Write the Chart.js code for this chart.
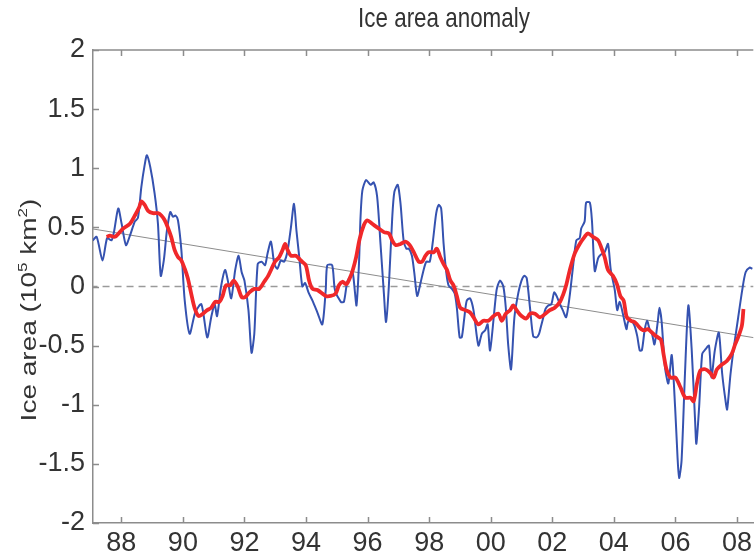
<!DOCTYPE html>
<html>
<head>
<meta charset="utf-8">
<script src="https://cdn.jsdelivr.net/npm/chart.js@4.4.1/dist/chart.umd.min.js"></script>
<style>
  html, body { margin: 0; padding: 0; background: #fff; }
</style>
</head>
<body>
<canvas id="c" width="756" height="551"></canvas>
<script>
// monthly anomaly (blue)
const blueYears = [1987.07, 1987.20, 1987.39, 1987.54, 1987.68, 1987.76, 1987.90, 1988.01, 1988.15, 1988.28,
  1988.44, 1988.54, 1988.65, 1988.76, 1988.83, 1988.94, 1989.08, 1989.19, 1989.28, 1989.38,
  1989.48, 1989.59, 1989.68, 1989.76, 1989.84, 1989.95, 1990.06, 1990.22, 1990.40, 1990.60,
  1990.79, 1990.92, 1991.03, 1991.11, 1991.24, 1991.37, 1991.46, 1991.57, 1991.70, 1991.81,
  1991.91, 1992.00, 1992.13, 1992.23, 1992.32, 1992.43, 1992.56, 1992.67, 1992.75, 1992.86,
  1992.97, 1993.07, 1993.18, 1993.29, 1993.40, 1993.51, 1993.61, 1993.69, 1993.78, 1993.88,
  1993.97, 1994.08, 1994.21, 1994.37, 1994.53, 1994.64, 1994.69, 1994.85, 1994.94, 1995.13,
  1995.23, 1995.34, 1995.45, 1995.52, 1995.59, 1995.64, 1995.72, 1995.77, 1995.83, 1995.95,
  1996.10, 1996.20, 1996.31, 1996.42, 1996.53, 1996.60, 1996.69, 1996.80, 1996.87, 1996.98,
  1997.07, 1997.17, 1997.26, 1997.34, 1997.44, 1997.52, 1997.61, 1997.72, 1997.82, 1997.91,
  1998.02, 1998.12, 1998.23, 1998.31, 1998.39, 1998.47, 1998.56, 1998.63, 1998.74, 1998.83,
  1998.90, 1998.99, 1999.06, 1999.14, 1999.22, 1999.33, 1999.44, 1999.60, 1999.71, 1999.82,
  1999.90, 1999.98, 2000.19, 2000.30, 2000.41, 2000.49, 2000.57, 2000.66, 2000.77, 2000.90,
  2001.00, 2001.09, 2001.17, 2001.28, 2001.38, 2001.49, 2001.57, 2001.63, 2001.71, 2001.78,
  2001.87, 2001.97, 2002.06, 2002.14, 2002.25, 2002.34, 2002.45, 2002.56, 2002.67, 2002.78,
  2002.89, 2002.94, 2003.05, 2003.10, 2003.22, 2003.29, 2003.38, 2003.49, 2003.58, 2003.70,
  2003.81, 2003.90, 2004.03, 2004.11, 2004.19, 2004.31, 2004.41, 2004.46, 2004.57, 2004.67,
  2004.76, 2004.84, 2004.91, 2005.00, 2005.08, 2005.16, 2005.24, 2005.32, 2005.43, 2005.48,
  2005.55, 2005.66, 2005.77, 2005.88, 2005.99, 2006.07, 2006.12, 2006.20, 2006.31, 2006.42,
  2006.53, 2006.64, 2006.68, 2006.77, 2006.87, 2006.98, 2007.09, 2007.17, 2007.28, 2007.41,
  2007.52, 2007.63, 2007.68, 2007.79, 2007.90, 2008.04, 2008.17, 2008.28, 2008.41, 2008.50];
const blueValues = [0.39, 0.42, 0.22, 0.41, 0.39, 0.46, 0.66, 0.53, 0.35, 0.43,
  0.55, 0.58, 0.84, 1.03, 1.11, 1.01, 0.79, 0.53, 0.09, 0.22,
  0.47, 0.63, 0.59, 0.60, 0.56, 0.31, -0.12, -0.40, -0.22, -0.15,
  -0.43, -0.26, -0.15, -0.25, 0.00, 0.14, 0.05, -0.10, 0.14, 0.26,
  0.12, 0.05, -0.20, -0.56, -0.40, 0.19, 0.21, 0.18, 0.28, 0.38,
  0.19, 0.15, 0.22, 0.21, 0.30, 0.50, 0.70, 0.47, 0.25, 0.00,
  0.03, -0.05, -0.12, -0.22, -0.32, -0.03, 0.18, 0.18, -0.03, -0.13,
  -0.13, 0.04, 0.09, 0.11, -0.05, -0.16, 0.19, 0.58, 0.81, 0.90,
  0.86, 0.88, 0.76, 0.36, -0.06, -0.30, 0.00, 0.58, 0.80, 0.86,
  0.70, 0.39, 0.32, 0.32, 0.26, 0.11, -0.08, 0.03, 0.14, 0.21,
  0.21, 0.38, 0.62, 0.69, 0.66, 0.36, 0.11, 0.01, -0.02, -0.06,
  -0.18, -0.43, -0.43, -0.27, -0.12, -0.10, -0.20, -0.50, -0.40, -0.37,
  -0.32, -0.54, -0.03, 0.05, 0.00, -0.18, -0.50, -0.70, -0.26, -0.05,
  0.05, 0.09, 0.07, -0.19, -0.42, -0.43, -0.40, -0.34, -0.26, -0.19,
  -0.16, -0.15, -0.05, -0.08, -0.15, -0.20, -0.26, -0.09, 0.16, 0.39,
  0.41, 0.49, 0.55, 0.71, 0.71, 0.55, 0.13, 0.24, 0.27, 0.29,
  0.36, 0.14, -0.03, -0.20, -0.13, -0.25, -0.36, -0.30, -0.29, -0.33,
  -0.42, -0.54, -0.54, -0.37, -0.29, -0.36, -0.40, -0.49, -0.29, -0.18,
  -0.29, -0.68, -0.82, -0.58, -1.02, -1.45, -1.62, -1.47, -0.74, -0.16,
  -0.54, -1.14, -1.33, -1.02, -0.57, -0.53, -0.50, -0.77, -0.54, -0.39,
  -0.74, -0.97, -1.04, -0.74, -0.51, -0.26, -0.03, 0.12, 0.16, 0.15];

// running mean (red)
const redYears = [1987.52, 1987.63, 1987.79, 1987.95, 1988.06, 1988.28, 1988.44, 1988.58, 1988.65, 1988.76,
  1988.87, 1989.03, 1989.19, 1989.30, 1989.41, 1989.51, 1989.62, 1989.73, 1989.84, 1989.95,
  1990.06, 1990.16, 1990.27, 1990.38, 1990.51, 1990.65, 1990.79, 1990.92, 1991.05, 1991.19,
  1991.29, 1991.40, 1991.54, 1991.65, 1991.78, 1991.91, 1992.02, 1992.16, 1992.32, 1992.48,
  1992.64, 1992.77, 1992.88, 1992.99, 1993.13, 1993.24, 1993.32, 1993.40, 1993.51, 1993.67,
  1993.83, 1993.99, 1994.10, 1994.21, 1994.37, 1994.64, 1994.80, 1994.96, 1995.07, 1995.18,
  1995.31, 1995.42, 1995.52, 1995.63, 1995.74, 1995.88, 1995.99, 1996.15, 1996.31, 1996.53,
  1996.69, 1996.80, 1996.91, 1997.07, 1997.23, 1997.37, 1997.50, 1997.66, 1997.77, 1997.88,
  1997.98, 1998.15, 1998.25, 1998.36, 1998.47, 1998.58, 1998.69, 1998.79, 1998.90, 1999.01,
  1999.17, 1999.33, 1999.44, 1999.60, 1999.76, 1999.92, 2000.09, 2000.25, 2000.36, 2000.49,
  2000.63, 2000.73, 2000.84, 2001.00, 2001.16, 2001.28, 2001.44, 2001.60, 2001.92, 2002.08,
  2002.25, 2002.35, 2002.46, 2002.57, 2002.73, 2002.89, 2003.05, 2003.16, 2003.32, 2003.49,
  2003.59, 2003.70, 2003.81, 2003.97, 2004.10, 2004.21, 2004.32, 2004.42, 2004.56, 2004.67,
  2004.78, 2004.89, 2005.00, 2005.10, 2005.32, 2005.43, 2005.53, 2005.62, 2005.71, 2005.84,
  2006.00, 2006.16, 2006.32, 2006.49, 2006.59, 2006.70, 2006.81, 2006.97, 2007.13, 2007.24,
  2007.35, 2007.51, 2007.67, 2007.83, 2007.94, 2008.05, 2008.16, 2008.21];
const redValues = [0.42, 0.43, 0.42, 0.46, 0.49, 0.53, 0.60, 0.67, 0.72, 0.69,
  0.64, 0.62, 0.62, 0.60, 0.56, 0.50, 0.42, 0.31, 0.25, 0.22,
  0.15, 0.07, -0.06, -0.18, -0.25, -0.23, -0.20, -0.18, -0.13, -0.13,
  -0.08, 0.01, 0.01, 0.05, 0.00, -0.09, -0.09, -0.05, -0.02, -0.02,
  0.04, 0.09, 0.15, 0.21, 0.25, 0.31, 0.36, 0.31, 0.26, 0.26,
  0.22, 0.18, 0.05, -0.02, -0.03, -0.08, -0.08, -0.06, 0.01, 0.04,
  0.02, 0.07, 0.14, 0.25, 0.40, 0.52, 0.56, 0.53, 0.50, 0.46,
  0.45, 0.39, 0.35, 0.36, 0.38, 0.35, 0.29, 0.21, 0.21, 0.26,
  0.29, 0.29, 0.32, 0.25, 0.19, 0.14, 0.05, 0.01, -0.08, -0.18,
  -0.20, -0.22, -0.26, -0.32, -0.29, -0.29, -0.25, -0.23, -0.29, -0.23,
  -0.20, -0.16, -0.20, -0.25, -0.27, -0.23, -0.23, -0.26, -0.20, -0.18,
  -0.13, -0.07, 0.02, 0.14, 0.28, 0.36, 0.42, 0.45, 0.42, 0.39,
  0.33, 0.25, 0.14, 0.09, 0.02, -0.08, -0.12, -0.26, -0.29, -0.30,
  -0.33, -0.36, -0.37, -0.36, -0.41, -0.43, -0.45, -0.58, -0.70, -0.77,
  -0.77, -0.85, -0.94, -0.94, -0.97, -0.82, -0.71, -0.70, -0.73, -0.77,
  -0.70, -0.66, -0.63, -0.57, -0.49, -0.42, -0.33, -0.19];

// linear trend and zero reference
const trendYears = [1987.0, 2008.6];
const trendValues = [0.49, -0.435];
const zeroYears = [1987.0, 2008.6];
const zeroValues = [0, 0];

const tickYears = [1988, 1990, 1992, 1994, 1996, 1998, 2000, 2002, 2004, 2006, 2008];
const yTicks = [-2, -1.5, -1, -0.5, 0, 0.5, 1, 1.5, 2];

const axisColor = '#8c8c8c';
const textColor = '#333333';
const narrow = '"Liberation Sans Narrow", "Arial Narrow", "Liberation Sans", Arial, sans-serif';
const sans = '"Liberation Sans", Arial, sans-serif';

function pts(xs, ys) {
  return xs.map((v, i) => ({ x: v, y: ys[i] }));
}

// box on top, inward tick marks, title and y label (matlab look)
const frame = {
  id: 'frame',
  afterDraw(chart) {
    const { ctx, chartArea: a, scales: { x, y } } = chart;
    ctx.save();
    ctx.strokeStyle = axisColor;
    ctx.lineWidth = 1.5;
    ctx.beginPath();
    ctx.moveTo(a.left, a.top);
    ctx.lineTo(a.right, a.top);
    tickYears.forEach(t => {
      const px = Math.round(x.getPixelForValue(t)) + 0.5;
      ctx.moveTo(px, a.bottom); ctx.lineTo(px, a.bottom - 6);
      ctx.moveTo(px, a.top); ctx.lineTo(px, a.top + 6);
    });
    yTicks.forEach(t => {
      const py = Math.round(y.getPixelForValue(t)) + 0.5;
      ctx.moveTo(a.left, py); ctx.lineTo(a.left + 6, py);
    });
    ctx.stroke();

    ctx.fillStyle = textColor;
    // title
    ctx.save();
    ctx.translate(444, 19);
    ctx.scale(0.8, 1);
    ctx.font = '28px ' + sans;
    ctx.textAlign = 'center';
    ctx.textBaseline = 'middle';
    ctx.fillText('Ice area anomaly', 0, 0);
    ctx.restore();

    // y axis label with superscripts
    ctx.save();
    ctx.translate(30, 310);
    ctx.scale(0.8, 1);
    ctx.rotate(-Math.PI / 2);
    ctx.textBaseline = 'middle';
    ctx.textAlign = 'left';
    const parts = [['Ice area (10', false], ['5', true], [' km', false], ['2', true], [')', false]];
    const big = '28px ' + sans, small = '17px ' + sans;
    let total = 0;
    parts.forEach(p => { ctx.font = p[1] ? small : big; total += ctx.measureText(p[0]).width; });
    let cx = -total / 2;
    parts.forEach(p => {
      ctx.font = p[1] ? small : big;
      ctx.fillText(p[0], cx, p[1] ? -8 : 0);
      cx += ctx.measureText(p[0]).width;
    });
    ctx.restore();
    ctx.restore();
  }
};

new Chart(document.getElementById('c'), {
  type: 'line',
  data: {
    datasets: [
      { data: pts(redYears, redValues), borderColor: '#f0282a', borderWidth: 3.8, tension: 0.3, pointRadius: 0 },
      { data: pts(blueYears, blueValues), borderColor: '#3552b0', borderWidth: 2, tension: 0.25, pointRadius: 0 },
      { data: pts(trendYears, trendValues), borderColor: '#8c8c8c', borderWidth: 1, pointRadius: 0 },
      { data: pts(zeroYears, zeroValues), borderColor: '#9a9a9a', borderWidth: 1.3, borderDash: [7, 5], pointRadius: 0 }
    ]
  },
  options: {
    responsive: false,
    animation: false,
    devicePixelRatio: 1,
    layout: { padding: { top: 50, right: 0, bottom: 0, left: 0 } },
    plugins: { legend: { display: false }, tooltip: { enabled: false }, title: { display: false } },
    scales: {
      x: {
        type: 'linear',
        min: 1987.08,
        max: 2008.53,
        afterBuildTicks: s => { s.ticks = tickYears.map(v => ({ value: v })); },
        afterFit: s => { s.height = 28; },
        grid: { display: false, drawTicks: false },
        border: { display: true, color: axisColor, width: 1.5 },
        ticks: {
          padding: 4,
          maxRotation: 0,
          autoSkip: false,
          color: textColor,
          font: { family: narrow, size: 27 },
          callback: v => String(v % 100).padStart(2, '0')
        }
      },
      y: {
        min: -2,
        max: 2,
        afterBuildTicks: s => { s.ticks = yTicks.map(v => ({ value: v })); },
        afterFit: s => { s.width = 93; },
        grid: { display: false, drawTicks: false },
        border: { display: true, color: axisColor, width: 1.5 },
        ticks: {
          padding: 8,
          color: textColor,
          font: { family: narrow, size: 27 },
          callback: v => String(v)
        }
      }
    }
  },
  plugins: [frame]
});
</script>
</body>
</html>
